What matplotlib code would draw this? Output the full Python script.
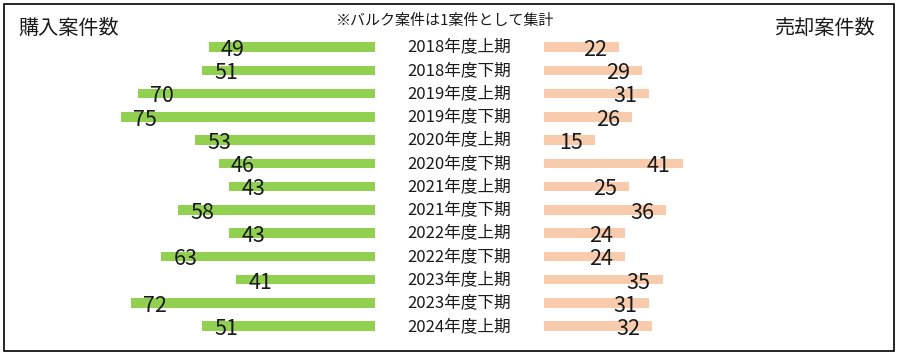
import matplotlib.pyplot as plt
from matplotlib.patches import Rectangle
from matplotlib.transforms import blended_transform_factory

plt.rcParams['font.family'] = ['Noto Sans CJK JP', 'DejaVu Sans']

periods = ["2018年度上期", "2018年度下期", "2019年度上期", "2019年度下期",
           "2020年度上期", "2020年度下期", "2021年度上期", "2021年度下期",
           "2022年度上期", "2022年度下期", "2023年度上期", "2023年度下期",
           "2024年度上期"]
bought = [49, 51, 70, 75, 53, 46, 43, 58, 43, 63, 41, 72, 51]
sold = [22, 29, 31, 26, 15, 41, 25, 36, 24, 24, 35, 31, 32]

W, H = 900, 356
fig = plt.figure(figsize=(9, 3.56), dpi=100)

def px_axes(x0, x1, y0, y1):
    # pixel box (top-left origin) -> figure axes
    return fig.add_axes([x0 / W, 1 - y1 / H, (x1 - x0) / W, (y1 - y0) / H])

scale = 3.39  # px per unit
top, bottom = 35.4, 337.9
axl = px_axes(4, 375, top, bottom)
axr = px_axes(544, 894, top, bottom)

rows = list(range(len(periods)))
axl.barh(rows, bought, height=0.41, color="#92D050")
axr.barh(rows, sold, height=0.41, color="#F8CBAD")
axl.set_xlim(371 / scale, 0)
axr.set_xlim(0, 350 / scale)
for ax in (axl, axr):
    ax.set_ylim(12.5, -0.5)
    ax.axis("off")

off = 24 / scale
for i, v in enumerate(bought):
    axl.text(v - off, i + 0.12, str(v), ha="center", va="center", fontsize=15.5, color="#1a1a1a")
for i, v in enumerate(sold):
    axr.text(v - off, i + 0.12, str(v), ha="center", va="center", fontsize=15.5, color="#1a1a1a")

tr = blended_transform_factory(fig.transFigure, axl.transData)
for i, p in enumerate(periods):
    axl.text(459 / W, i, p, transform=tr, ha="center", va="center", fontsize=12, color="#1a1a1a")

fig.text(18 / W, 1 - 28 / H, "購入案件数", ha="left", va="center", fontsize=14.5, color="#1a1a1a")
fig.text(875 / W, 1 - 28 / H, "売却案件数", ha="right", va="center", fontsize=14.5, color="#1a1a1a")
fig.text(445 / W, 1 - 21 / H, "※バルク案件は1案件として集計", ha="center", va="center", fontsize=10.8, color="#1a1a1a")

fig.patches.append(Rectangle((4 / W, 1 - 351 / H), 890 / W, 347 / H, transform=fig.transFigure,
                             fill=False, edgecolor="black", linewidth=1.2))

fig.savefig("out.png", dpi=100)
